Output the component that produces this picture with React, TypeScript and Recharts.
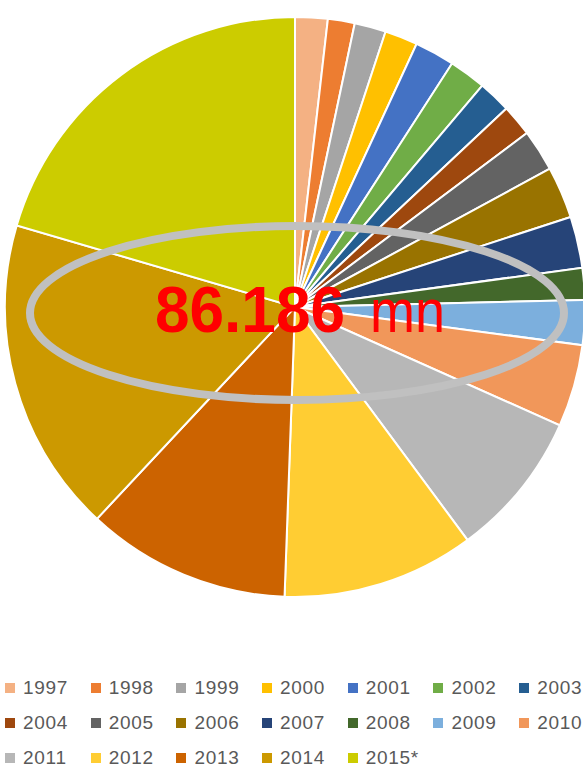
import React from 'react';
import { PieChart, Pie, Cell, Legend } from 'recharts';

// Years shown in the legend, in drawing order (clockwise from 12 o'clock)
const years = [
  '1997', '1998', '1999', '2000', '2001', '2002', '2003',
  '2004', '2005', '2006', '2007', '2008', '2009', '2010',
  '2011', '2012', '2013', '2014', '2015*',
];

// Values in mn (total ≈ 86.186)
const values = [
  1.56, 1.29, 1.51, 1.58, 1.92, 1.77, 1.58,
  1.51, 2.01, 2.49, 2.47, 1.53, 2.15, 3.95,
  7.04, 9.24, 9.82, 15.15, 17.64,
];

const colors = [
  '#F4B183', '#ED7D31', '#A5A5A5', '#FFC000', '#4472C4', '#70AD47', '#255E91',
  '#9E480E', '#636363', '#997300', '#264478', '#43682B', '#7CAFDD', '#F1975A',
  '#B7B7B7', '#FFCD33', '#CC6300', '#CC9900', '#CCCC00',
];

const totalLabel = '86.186';
const unitLabel = 'mn';

const data = years.map((year, i) => ({ name: year, value: values[i] }));

const W = 583;
const H = 767;
const COLS = 7;
const COL_W = 85.7;

const renderLegend = () => (
  <div
    style={{
      display: 'flex',
      flexWrap: 'wrap',
      width: COLS * COL_W + 1,
      fontFamily: '"Liberation Sans", Arial, sans-serif',
      fontSize: 19,
      letterSpacing: 0.7,
      color: '#595959',
    }}
  >
    {years.map((year, i) => (
      <div
        key={year}
        style={{
          width: COL_W,
          height: 35,
          display: 'flex',
          alignItems: 'center',
          paddingLeft: 5,
          boxSizing: 'border-box',
          whiteSpace: 'nowrap',
        }}
      >
        <span
          style={{
            display: 'inline-block',
            width: 10,
            height: 10,
            background: colors[i],
            marginRight: 8,
            flexShrink: 0,
          }}
        />
        <span>{year}</span>
      </div>
    ))}
  </div>
);

export default function App() {
  return (
    <div style={{ position: 'absolute', left: 0, top: 0, width: W, height: H, background: '#fff', overflow: 'hidden' }}>
      <PieChart width={W} height={H} margin={{ top: 0, right: 0, bottom: 0, left: 0 }}>
        <Pie
          data={data}
          dataKey="value"
          nameKey="name"
          cx={295}
          cy={307}
          outerRadius={290}
          startAngle={90}
          endAngle={-270}
          stroke="#fff"
          strokeWidth={2}
          isAnimationActive={false}
        >
          {data.map((d, i) => (
            <Cell key={d.name} fill={colors[i]} />
          ))}
        </Pie>
        <Legend
          content={renderLegend}
          wrapperStyle={{ position: 'absolute', top: 670, left: 0, width: COLS * COL_W + 1 }}
        />
      </PieChart>
      <svg
        width={W}
        height={H}
        style={{ position: 'absolute', left: 0, top: 0, pointerEvents: 'none' }}
      >
        <ellipse cx={297} cy={313} rx={267} ry={87} fill="none" stroke="#C0C0C0" strokeWidth={8} />
        <text
          x={155}
          y={332}
          fill="#FF0000"
          fontFamily='"Liberation Sans", Arial, sans-serif'
          fontWeight="bold"
          fontSize={65}
          textLength={190}
          lengthAdjust="spacingAndGlyphs"
        >
          {totalLabel}
        </text>
        <text
          x={370}
          y={332}
          fill="#FF0000"
          fontFamily='"Liberation Sans", Arial, sans-serif'
          fontSize={62}
          textLength={75}
          lengthAdjust="spacingAndGlyphs"
        >
          {unitLabel}
        </text>
      </svg>
    </div>
  );
}
